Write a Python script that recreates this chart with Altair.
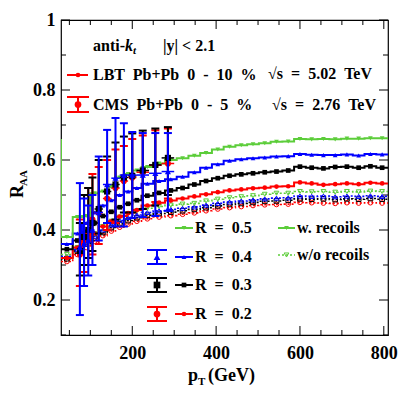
import altair as alt
import pandas as pd

FONT = "Liberation Serif"
RED, BLACK, BLUE, GREEN = "#ff0000", "#000000", "#0000ff", "#5ccd3a"
W, H = 327, 315

# ---------------- LBT histograms (bin edges, GeV) ----------------
edges = [30, 58, 80, 100, 120, 140, 160, 180, 200, 222, 250, 278, 306, 334, 362,
         390, 418, 446, 474, 502, 530, 558, 586, 614, 642, 670, 698, 726, 754, 782, 810]

# with recoils
r05_w = [0.38, 0.437, 0.44, 0.505, 0.51, 0.523, 0.55, 0.56, 0.57, 0.58, 0.59, 0.60, 0.605,
         0.612, 0.62, 0.63, 0.638, 0.642, 0.645, 0.648, 0.652, 0.653, 0.66, 0.659, 0.66,
         0.659, 0.661, 0.661, 0.662, 0.662]
r05_w_first_edge = 0.66
r04_w = [0.36, 0.39, 0.42, 0.45, 0.47, 0.485, 0.50, 0.51, 0.52, 0.532, 0.54, 0.545, 0.552,
         0.565, 0.578, 0.588, 0.598, 0.602, 0.605, 0.607, 0.61, 0.611, 0.617, 0.615, 0.614,
         0.614, 0.616, 0.613, 0.617, 0.616]
r03_w = [0.345, 0.37, 0.395, 0.42, 0.44, 0.452, 0.465, 0.475, 0.485, 0.498, 0.506, 0.513,
         0.52, 0.53, 0.54, 0.548, 0.555, 0.559, 0.562, 0.565, 0.567, 0.57, 0.581, 0.578,
         0.576, 0.58, 0.581, 0.578, 0.582, 0.578]
r02_w = [0.32, 0.35, 0.37, 0.39, 0.41, 0.425, 0.438, 0.448, 0.457, 0.47, 0.478, 0.484, 0.49,
         0.496, 0.502, 0.508, 0.513, 0.516, 0.519, 0.521, 0.524, 0.525, 0.536, 0.533, 0.529,
         0.531, 0.533, 0.531, 0.535, 0.533]
# without recoils
r05_wo = [0.33, 0.35, 0.37, 0.39, 0.41, 0.425, 0.437, 0.447, 0.455, 0.462, 0.467, 0.471,
          0.474, 0.476, 0.483, 0.488, 0.492, 0.495, 0.498, 0.502, 0.505, 0.505, 0.51, 0.509,
          0.51, 0.508, 0.51, 0.509, 0.511, 0.51]
r04_wo = [0.325, 0.345, 0.365, 0.382, 0.40, 0.415, 0.427, 0.436, 0.443, 0.45, 0.455, 0.459,
          0.462, 0.466, 0.471, 0.476, 0.48, 0.483, 0.486, 0.489, 0.491, 0.492, 0.497, 0.496,
          0.497, 0.495, 0.497, 0.496, 0.498, 0.496]
r03_wo = [0.318, 0.34, 0.36, 0.377, 0.393, 0.407, 0.418, 0.427, 0.435, 0.442, 0.447, 0.451,
          0.455, 0.459, 0.464, 0.469, 0.473, 0.476, 0.479, 0.482, 0.483, 0.485, 0.489, 0.488,
          0.489, 0.487, 0.489, 0.488, 0.49, 0.488]
r02_wo = [0.31, 0.33, 0.35, 0.368, 0.384, 0.397, 0.408, 0.417, 0.425, 0.432, 0.437, 0.441,
          0.445, 0.449, 0.455, 0.46, 0.464, 0.467, 0.47, 0.472, 0.473, 0.474, 0.479, 0.478,
          0.477, 0.476, 0.478, 0.477, 0.478, 0.477]

# ---------------- CMS 2.76 TeV data ----------------
cms_pt = [75, 85, 95, 105, 120, 140, 160, 180, 200, 225, 255, 285]
cms_pt_lo = [70, 80, 90, 100, 110, 130, 150, 170, 190, 210, 240, 270]
cms_pt_hi = [80, 90, 100, 110, 130, 150, 170, 190, 210, 240, 270, 300]
cms_r04 = [0.35, 0.36, 0.37, 0.40, 0.45, 0.53, 0.548, 0.557, 0.557, 0.557, 0.562, 0.567]
cms_r04_lo = [0.157, 0.24, 0.27, 0.30, 0.37, 0.42, 0.41, 0.41, 0.434, 0.437, 0.44, 0.455]
cms_r04_hi = [0.534, 0.49, 0.47, 0.50, 0.61, 0.686, 0.72, 0.705, 0.68, 0.677, 0.677, 0.677]
cms_r03 = [0.34, 0.38, 0.40, 0.42, 0.46, 0.51, 0.53, 0.55, 0.555, 0.57, 0.586, 0.606]
cms_r03_lo = [0.27, 0.30, 0.32, 0.34, 0.39, 0.42, 0.43, 0.45, 0.45, 0.46, 0.47, 0.50]
cms_r03_hi = [0.42, 0.50, 0.52, 0.55, 0.60, 0.61, 0.65, 0.667, 0.676, 0.684, 0.69, 0.694]
cms_r02 = [0.33, 0.37, 0.39, 0.43, 0.45, 0.49, 0.52, 0.54, 0.55, 0.565, 0.585, 0.59]
cms_r02_lo = [0.24, 0.28, 0.30, 0.33, 0.36, 0.40, 0.42, 0.44, 0.45, 0.46, 0.48, 0.49]
cms_r02_hi = [0.43, 0.50, 0.52, 0.56, 0.58, 0.60, 0.63, 0.64, 0.66, 0.67, 0.685, 0.69]

# ---------------- axes ----------------
x_major = [200, 400, 600, 800]
x_minor = [50, 100, 150, 250, 300, 350, 450, 500, 550, 650, 700, 750]
y_major = [0.2, 0.4, 0.6, 0.8, 1.0]
y_minor = [0.1, 0.3, 0.5, 0.7, 0.9]

xs = alt.Scale(domain=[30, 810], nice=False, zero=False)
ys = alt.Scale(domain=[0.1, 1.0], nice=False, zero=False)

xaxis = alt.Axis(values=x_major, format="d", labelFont=FONT, labelFontSize=18,
                 labelFontWeight="bold", labelColor="black", domain=False, ticks=False,
                 grid=False, labelPadding=9, title=None, labelOverlap=False, labelFlush=False)
yaxis = alt.Axis(values=y_major,
                 labelExpr="datum.value == 1 ? '1' : format(datum.value, '.1f')",
                 labelFont=FONT, labelFontSize=18, labelFontWeight="bold", labelColor="black",
                 domain=False, ticks=False, grid=False, labelPadding=6, title=None,
                 labelOverlap=False, labelFlush=False)


def X(f):
    return alt.X(f, type="quantitative", scale=xs, axis=xaxis)


def Y(f):
    return alt.Y(f, type="quantitative", scale=ys, axis=yaxis)


layers = []

# inward ticks on all four sides
for vals, ln in ((y_major, 9), (y_minor, 5)):
    d = pd.DataFrame({"v": vals})
    layers.append(alt.Chart(d).mark_rule(color="black", strokeWidth=1).encode(
        y=Y("v"), x=alt.value(0), x2=alt.value(ln)))
    layers.append(alt.Chart(d).mark_rule(color="black", strokeWidth=1).encode(
        y=Y("v"), x=alt.value(W - ln), x2=alt.value(W)))
for vals, ln in ((x_major, 9), (x_minor, 5)):
    d = pd.DataFrame({"v": vals})
    layers.append(alt.Chart(d).mark_rule(color="black", strokeWidth=1).encode(
        x=X("v"), y=alt.value(H), y2=alt.value(H - ln)))
    layers.append(alt.Chart(d).mark_rule(color="black", strokeWidth=1).encode(
        x=X("v"), y=alt.value(0), y2=alt.value(ln)))


def step_df(vals, start=None):
    rows = []
    if start is not None:
        rows.append({"x": edges[0], "y": start, "o": -1})
    for i, v in enumerate(vals):
        rows.append({"x": edges[i], "y": v, "o": 2 * i})
        rows.append({"x": edges[i + 1], "y": v, "o": 2 * i + 1})
    return pd.DataFrame(rows)


centers = [(edges[i] + edges[i + 1]) / 2 for i in range(len(edges) - 1)]

lbt = [
    (r02_wo, RED, "circle", False, None),
    (r03_wo, BLACK, "square", False, None),
    (r04_wo, BLUE, "triangle-up", False, None),
    (r05_wo, GREEN, "triangle-down", False, None),
    (r02_w, RED, "circle", True, None),
    (r03_w, BLACK, "square", True, None),
    (r04_w, BLUE, "triangle-up", True, None),
    (r05_w, GREEN, "triangle-down", True, r05_w_first_edge),
]
for vals, col, shp, solid, start in lbt:
    lk = dict(color=col, strokeWidth=2 if solid else 1.6, clip=True)
    if not solid:
        lk["strokeDash"] = [2, 2]
    layers.append(alt.Chart(step_df(vals, start)).mark_line(**lk).encode(
        x=X("x"), y=Y("y"), order="o:Q"))
    pdf = pd.DataFrame({"x": centers, "y": vals})
    if solid:
        layers.append(alt.Chart(pdf).mark_point(shape=shp, filled=True, size=22, color=col,
                                                opacity=1, clip=True).encode(x=X("x"), y=Y("y")))
    else:
        layers.append(alt.Chart(pdf).mark_point(shape=shp, filled=False, size=22, color=col,
                                                strokeWidth=1, opacity=1, clip=True).encode(
            x=X("x"), y=Y("y")))

# CMS points
cms = [
    (cms_r02, cms_r02_lo, cms_r02_hi, RED, "circle"),
    (cms_r03, cms_r03_lo, cms_r03_hi, BLACK, "square"),
    (cms_r04, cms_r04_lo, cms_r04_hi, BLUE, "triangle-up"),
]
for v, lo, hi, col, shp in cms:
    d = pd.DataFrame({"pt": cms_pt, "plo": cms_pt_lo, "phi": cms_pt_hi, "v": v, "lo": lo, "hi": hi})
    layers.append(alt.Chart(d).mark_rule(color=col, strokeWidth=2).encode(
        x=X("pt"), y=Y("lo"), y2=alt.Y2("hi")))
    layers.append(alt.Chart(d).mark_rule(color=col, strokeWidth=1.5).encode(
        x=X("plo"), x2=alt.X2("phi"), y=Y("v")))
    for f in ("lo", "hi"):
        layers.append(alt.Chart(d).mark_rule(color=col, strokeWidth=2, xOffset=-4, x2Offset=4).encode(
            x=X("pt"), x2=alt.X2("pt"), y=Y(f)))
    layers.append(alt.Chart(d).mark_point(shape=shp, filled=True, size=38, color=col, opacity=1).encode(
        x=X("pt"), y=Y("v")))

# ---------------- annotations / legends ----------------
one = pd.DataFrame({"a": [0]})


def txt(s, x, y, size=16, italic=False, angle=0, baseline="middle", align="left"):
    kw = dict(text=s, align=align, baseline=baseline, font=FONT, fontSize=size,
              fontWeight="bold", color="black")
    if italic:
        kw["fontStyle"] = "italic"
    if angle:
        kw["angle"] = angle
    return alt.Chart(one).mark_text(**kw).encode(x=alt.value(x), y=alt.value(y))


def seg(x1, x2, y1, y2, col, w=2, dash=None):
    kw = dict(color=col, strokeWidth=w)
    if dash:
        kw["strokeDash"] = dash
    return alt.Chart(one).mark_rule(**kw).encode(
        x=alt.value(x1), x2=alt.value(x2), y=alt.value(y1), y2=alt.value(y2))


def sym(x, y, shp, col, size, filled=True):
    kw = dict(shape=shp, filled=filled, size=size, color=col, opacity=1)
    if not filled:
        kw["strokeWidth"] = 1
    return alt.Chart(one).mark_point(**kw).encode(x=alt.value(x), y=alt.value(y))


def errsym(cx, cy, half_w, half_h, col, shp):
    return [seg(cx, cx, cy - half_h, cy + half_h, col),
            seg(cx - half_w, cx + half_w, cy - half_h, cy - half_h, col),
            seg(cx - half_w, cx + half_w, cy + half_h, cy + half_h, col),
            sym(cx, cy, shp, col, 45)]


NB = "\u00a0"
# top legend
layers += [
    txt("anti-", 32, 26), txt("k", 64, 26, italic=True), txt("t", 72, 31, size=11, italic=True),
    txt("|y| < 2.1", 102, 26),
    seg(6, 27, 55, 55, RED), sym(17, 55, "circle", RED, 22),
    txt(f"LBT {NB}Pb+Pb {NB}0 {NB}- {NB}10 {NB}%", 32, 55),
    txt(f"\u221as {NB}= {NB}5.02 {NB}TeV", 207, 54),
    *errsym(17, 84.5, 11, 7.5, RED, "circle"),
    txt(f"CMS {NB}Pb+Pb {NB}0 {NB}- {NB}5 {NB}%", 32, 85),
    txt(f"\u221as {NB}= {NB}2.76 {NB}TeV", 211, 85),
]
# lower legend
rows = [(208, GREEN, "triangle-down", "0.5", False),
        (237, BLUE, "triangle-up", "0.4", True),
        (265, BLACK, "square", "0.3", True),
        (294, RED, "circle", "0.2", True)]
for ry, col, shp, lab, has_err in rows:
    if has_err:
        layers += errsym(96, ry, 10, 7, col, shp)
    layers += [seg(114, 132, ry, ry, col), sym(123, ry, shp, col, 22),
               txt(f"R {NB}= {NB}{lab}", 134, ry)]
layers += [
    seg(217, 234, 208, 208, GREEN), sym(225.5, 208, "triangle-down", GREEN, 22),
    txt("w. recoils", 236, 208),
    seg(217, 234, 235, 235, GREEN, w=1.6, dash=[2, 2]),
    sym(225.5, 235, "triangle-down", GREEN, 22, filled=False),
    txt("w/o recoils", 236, 235),
]
# axis titles
layers += [
    txt("p", 127, 361, size=18, baseline="alphabetic"),
    txt("T", 137, 365, size=11, baseline="alphabetic"),
    txt("(GeV)", 147, 361, size=18, baseline="alphabetic"),
    txt("R", -38, 178, size=18, angle=270, baseline="alphabetic"),
    txt("AA", -34, 166, size=11, angle=270, baseline="alphabetic"),
]

chart = alt.layer(*layers).properties(
    width=W, height=H,
    padding={"left": 53, "top": 12, "right": 12, "bottom": 52},
    autosize=alt.AutoSizeParams(type="none"),
).configure_view(stroke="black", strokeWidth=1.2)

chart.save("out.html", embed_options={"renderer": "svg", "actions": False})
